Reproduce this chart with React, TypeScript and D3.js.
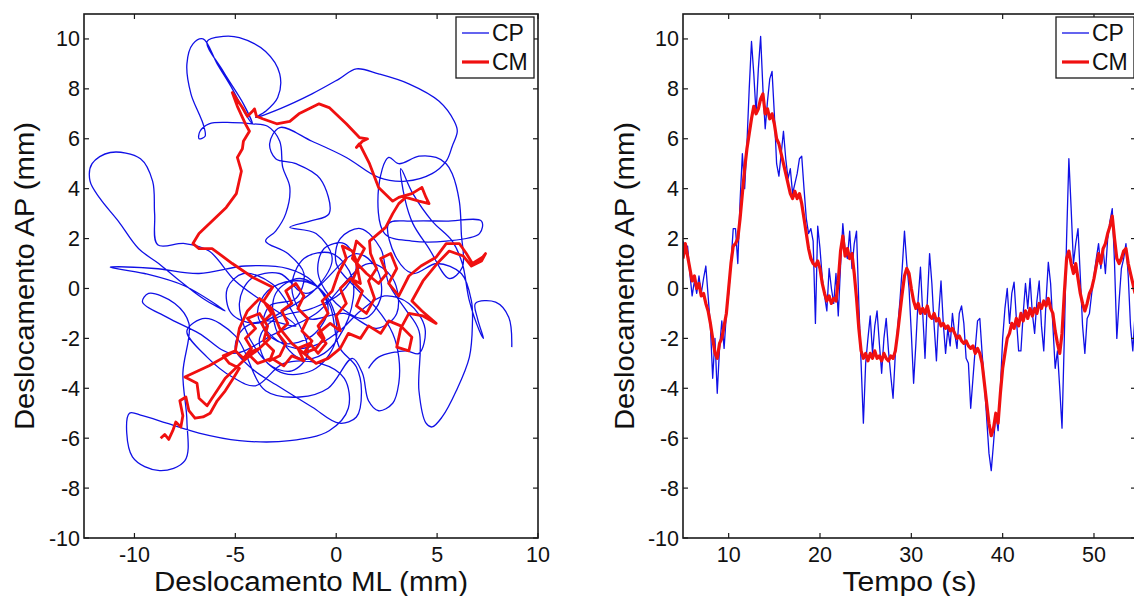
import React from "react";
import * as d3 from "d3";

// ---------- Data ----------
// Left panel: CP trajectory (ML, AP) in mm
const cpTrajectory: [number, number][] = [
  [1.6,-3.2],[2.1,-2.75],[3.45,-2.5],[4.1,-2.6],[4.4,-1.6],[3.6,-0.6],[2.4,-0.3],[1.2,-0.9],[0.3,-1.6],[-0.8,-2.2],[-2.0,-2.4],[-3.2,-1.9],[-3.9,-1.0],[-3.4,-0.1],[-2.2,0.3],[-1.0,0.1],[-0.3,-0.7],
  [0.15,-2.35],[1.0,-3.15],[1.25,-4.1],[1.0,-5.15],[0.15,-5.4],[-1.2,-4.75],[-2.8,-3.95],[-4.2,-3.2],[-5.0,-2.4],[-4.6,-1.6],[-3.4,-1.3],[-2.0,-1.5],
  [-3.5,-0.6],[-5.0,0.3],[-6.3,1.5],[-7.5,1.8],[-8.85,1.75],[-9.0,3.0],[-9.1,4.3],[-9.7,5.2],[-11.2,5.45],[-12.1,5.0],[-12.2,4.3],[-11.7,3.6],[-10.8,2.7],[-9.8,1.6],[-8.8,1.0],[-7.9,0.4],[-6.6,-0.4],[-5.5,-0.9],
  [-7.5,0.1],[-9.5,0.6],[-11.2,0.85],[-9.0,0.8],[-6.8,0.6],[-4.5,0.9],[-2.4,0.8],[-1.2,0.3],
  [-0.4,-0.8],[-1.2,-1.9],[-2.6,-2.2],[-3.6,-1.6],[-3.3,-0.7],[-2.0,-0.4],
  [-1.6,0.6],[-2.4,1.4],[-3.5,1.9],[-3.0,2.3],[-2.5,3.0],[-2.3,4.05],[-2.65,4.85],[-2.8,5.9],[-3.4,6.5],[-4.15,6.6],[-5.15,6.65],[-6.3,6.6],[-6.75,6.3],[-6.8,6.0],[-6.5,6.1],[-6.6,6.6],[-6.8,7.0],[-7.2,7.8],[-7.4,9.0],[-7.1,9.8],[-6.6,10.0],[-5.9,9.0],[-5.15,8.0],[-4.5,7.0],[-4.15,6.6],[-4.6,7.4],[-5.6,8.7],[-6.4,9.9],[-5.6,10.1],[-4.8,10.05],[-3.5,9.5],[-2.8,8.6],[-2.9,7.65],[-3.5,7.1],[-4.0,6.85],
  [-2.8,7.2],[-1.2,7.8],[0.15,8.4],[1.0,8.8],[2.1,8.6],[3.6,8.2],[5.1,7.5],[5.85,6.7],[6.0,6.3],[5.75,5.7],[5.45,5.1],[4.75,4.6],[3.45,4.3],[2.1,4.45],[0.5,5.25],[-1.2,5.9],[-2.8,6.45],[-3.3,5.8],[-3.0,5.2],[-2.0,5.0],[-0.8,4.4],[-0.35,3.0],[-1.3,2.7],[-2.3,2.45],[-1.0,2.2],
  [-0.2,1.2],[-1.0,0.0],[-2.4,-0.8],[-4.0,-1.4],[-5.2,-1.0],[-5.4,0.0],[-4.6,0.6],[-3.2,0.2],[-2.2,-0.9],[-1.4,-2.6],[-2.2,-3.3],[-3.4,-3.0],[-3.8,-2.0],[-3.0,-1.2],[-1.2,-0.8],[0.2,-0.2],[1.0,0.9],[0.4,1.8],[-0.6,1.6],[-0.9,0.6],[0.0,-0.6],[1.4,-1.2],[2.2,-0.4],[2.0,0.8],[1.0,1.4],
  [-1.5,-0.2],[-2.8,0.6],[-4.2,0.4],[-4.8,-0.6],[-4.0,-2.4],[-2.6,-3.4],[-1.0,-3.2],[0.0,-2.0],[-0.4,-0.4],[-1.8,0.4],[-3.0,-0.2],[-3.0,-1.6],[-1.8,-2.8],[-0.6,-2.6],[0.6,-1.2],[0.8,0.4],[-0.2,1.4],[-1.6,1.2],[-2.2,0.0],[-1.4,-1.2],[0.4,-1.0],[2.0,-1.6],[3.0,-1.0],[2.8,0.4],[1.6,1.0],
  [-1.0,-1.0],[-3.0,-1.8],[-5.15,-2.6],[-6.8,-1.8],[-8.4,-1.15],[-9.6,-0.55],[-9.3,-0.2],[-8.0,-0.6],[-7.3,-1.4],[-7.6,-3.4],[-7.4,-5.3],[-7.5,-6.9],[-8.75,-7.3],[-10.1,-6.75],[-10.25,-5.0],[-9.6,-5.1],[-8.4,-5.4],[-6.8,-5.8],[-4.8,-6.1],[-2.3,-6.1],[-0.35,-5.7],[0.6,-4.8],[0.4,-3.6],[-0.8,-3.0],[-2.6,-3.0],[-4.0,-3.9],[-5.15,-3.55],[-6.4,-2.75],[-7.4,-1.7],[-6.5,-1.2],[-5.0,-1.9],[-3.5,-4.1],[-1.8,-4.35],[-0.4,-4.0],[0.8,-2.8],
  [1.3,-3.4],[1.6,-4.5],[2.1,-4.9],[2.8,-4.6],[3.1,-3.8],[3.1,-2.75],[2.8,-1.8],[2.0,-0.8],[1.0,0.0],[0.0,1.0],[0.2,2.0],[1.2,2.4],[2.2,1.6],[2.6,0.2],[3.4,-0.8],[4.1,-1.7],[4.1,-4.1],[4.45,-5.4],[4.75,-5.55],[5.25,-5.15],[5.95,-4.1],[6.6,-2.75],[6.75,-1.4],[6.7,-0.5],[6.2,0.6],[5.0,1.0],[3.8,0.6],[3.0,1.2],[2.6,2.6],
  [3.75,2.7],[5.45,2.7],[7.2,2.7],[7.1,2.2],[5.45,1.9],[3.75,1.9],[2.4,2.2],
  [2.1,4.05],[2.6,5.25],[3.1,5.0],[4.1,5.3],[4.95,5.25],[5.45,5.0],[5.75,4.6],[6.1,3.5],[6.2,2.2],[6.25,0.85],[5.6,0.4],[4.6,1.6],[3.8,2.6],[3.4,3.6],[3.2,4.8],[3.8,3.8],[4.75,2.7],[5.75,1.9],[6.25,1.0],[6.6,-0.5],[7.1,-1.7],[7.3,-2.0],[7.0,-1.2],[6.9,-0.6],[7.9,-0.55],[8.55,-1.15],[8.7,-2.35],
];

// Left panel: CM trajectory (ML, AP) in mm
const cmTrajectory: [number, number][] = [
  [-8.7,-6.0],[-8.5,-5.85],[-8.3,-6.05],[-8.1,-5.7],[-7.95,-5.35],[-7.7,-5.55],[-7.6,-5.1],[-7.75,-4.5],[-7.45,-4.35],[-7.3,-4.9],[-7.0,-5.2],[-6.6,-5.15],[-6.25,-5.0],[-5.9,-4.5],[-5.5,-4.1],[-5.1,-3.6],[-4.8,-3.2],[-5.3,-3.0],[-5.6,-2.7],
  [-5.0,-2.5],[-4.6,-2.8],[-4.2,-2.4],[-4.5,-2.0],[-4.0,-1.6],[-4.4,-1.2],[-3.8,-1.0],[-3.4,-1.5],[-3.6,-2.1],[-3.1,-2.5],[-3.3,-2.9],[-2.8,-2.7],[-2.5,-2.2],[-2.9,-1.8],[-2.4,-1.4],[-2.7,-0.9],[-2.2,-0.6],[-2.5,-0.1],[-2.0,0.2],[-1.6,-0.3],[-1.9,-0.8],[-1.4,-1.2],[-1.7,-1.7],[-1.2,-2.1],[-1.6,-2.6],[-1.0,-2.4],[-0.6,-2.0],[-0.9,-1.5],[-0.4,-1.0],[-0.7,-0.5],[-0.2,-0.1],[0.1,0.6],[0.5,1.2],[0.3,1.7],[0.8,1.5],[1.1,0.9],[0.8,0.3],[1.3,-0.1],[1.0,-0.7],[1.5,-1.0],[1.9,-0.4],[1.6,0.3],[2.0,0.8],[1.7,1.4],[1.65,1.9],
  [2.45,2.45],[2.8,3.0],[3.1,3.4],[3.45,3.65],[4.1,3.5],[4.6,3.4],[4.45,3.65],[4.25,4.05],[3.75,3.8],[3.1,3.65],[2.8,3.5],[2.1,4.05],[1.65,5.0],[1.15,5.8],[1.0,5.65],[1.3,5.9],[1.55,6.0],[1.15,6.05],[0.5,6.6],[-0.35,7.25],[-0.85,7.4],[-1.85,7.0],[-2.3,6.7],[-2.95,6.6],[-3.65,6.8],[-3.95,6.9],[-4.05,7.2],[-4.15,7.1],[-4.4,6.9],[-4.65,7.25],[-5.15,7.85],[-4.9,7.3],[-4.5,6.6],[-4.3,6.3],[-4.6,5.9],[-4.65,5.6],[-4.9,5.25],[-4.7,4.7],[-4.95,3.8],[-5.45,3.25],[-6.15,2.7],[-6.8,2.2],[-7.1,1.8],[-6.8,1.6],[-6.15,1.6],[-5.15,1.0],[-4.15,0.45],[-3.15,0.05],
  [-3.6,-0.5],[-3.2,-1.0],[-3.7,-1.4],[-3.3,-2.0],[-3.8,-2.4],[-4.4,-2.6],[-3.9,-3.0],[-3.2,-2.8],[-2.6,-3.1],[-2.2,-2.7],[-1.6,-2.9],[-1.9,-2.4],[-1.3,-2.2],[-0.9,-2.6],[-0.5,-2.2],[-0.9,-1.8],[-0.3,-1.4],[0.2,-1.7],[0.0,-1.1],[0.5,-0.6],[0.2,0.0],[0.7,0.4],[1.2,0.2],[1.0,1.0],[1.4,1.6],[1.0,1.9],[0.8,1.2],[1.5,0.6],[2.1,0.2],[2.5,0.6],[2.2,1.2],[2.7,1.4],[3.0,0.8],[2.6,0.2],[3.1,-0.3],
  [3.6,0.5],[4.2,0.9],[4.95,1.25],[5.45,1.8],[6.1,1.8],[6.45,1.4],[6.75,1.0],[7.25,1.25],[7.4,1.4],[7.2,1.1],[6.7,0.9],[6.3,1.3],[5.6,1.5],[5.0,1.0],[4.3,0.3],[3.75,-0.5],[4.25,-0.9],[4.95,-1.4],[4.3,-1.1],[3.6,-1.0],[3.2,-1.6],[3.0,-2.35],[3.6,-2.5],[3.75,-1.95],[3.2,-1.5],[2.6,-1.3],[2.2,-1.8],[1.6,-1.5],[1.2,-2.0],[0.6,-1.8],[0.2,-2.4],[-0.4,-2.8],[-1.0,-3.0],[-1.6,-2.6],[-2.2,-2.2],[-2.8,-1.6],[-3.2,-0.8],[-3.8,-0.4],[-4.4,-0.9],[-4.8,-1.6],[-5.0,-2.5],[-6.3,-3.1],[-7.5,-3.55],[-6.9,-3.8],[-6.8,-4.4],[-6.4,-4.7],[-5.5,-3.6],[-4.6,-2.9],[-3.8,-2.4],
];

// Right panel: AP displacement vs time, sampled every 0.25 s from 5 s
const timeStart = 5;
const samplePeriod = 0.25;
const cpAP: number[] = [
  1.9,1.4,1.7,0.6,-0.3,0.3,-0.2,0.5,-0.2,0.4,0.9,-0.3,-1.5,-3.6,-2.0,-4.2,-2.4,-1.3,-2.4,-1.0,
  -0.2,1.0,2.4,2.4,1.0,3.5,5.4,4.0,5.8,8.0,9.9,8.6,7.0,8.8,10.1,8.0,6.4,7.5,8.4,8.7,
  7.0,5.0,4.5,5.4,6.3,5.2,4.4,4.8,3.8,4.2,4.6,5.2,5.3,4.0,2.8,2.2,2.4,1.9,-1.4,2.5,
  1.6,0.4,-0.3,-0.9,0.8,0.0,-0.6,0.6,-1.1,0.9,2.6,1.5,1.2,2.3,0.8,1.8,2.3,-0.6,-3.0,-5.4,
  -3.0,-2.0,-1.1,-2.6,-1.5,-0.9,-2.2,-3.4,-2.0,-1.2,-2.5,-3.5,-4.4,-2.6,-1.6,-0.5,0.8,2.3,1.0,0.0,
  -1.8,-3.8,-2.2,-0.4,0.85,-1.0,-2.8,-0.5,1.4,0.2,-1.5,-2.9,-1.0,0.3,-1.4,-2.6,-1.6,-2.3,-1.0,-1.8,
  -2.4,-1.0,-0.7,-1.4,-2.8,-3.0,-4.8,-3.6,-2.4,-1.3,-1.2,-2.6,-3.8,-5.2,-6.6,-7.3,-6.2,-5.0,-5.7,-4.0,
  -2.0,-0.8,0.0,-1.4,-0.2,0.25,-1.2,-2.5,-2.5,-1.0,0.2,-0.8,0.4,-1.0,-1.8,-0.5,0.3,-1.5,-2.5,-0.5,
  1.05,0.2,-1.5,-3.2,-2.5,-4.0,-5.6,-2.0,2.0,5.2,3.2,1.0,1.8,2.4,0.5,-1.5,-2.6,-1.2,-1.0,-0.2,
  0.5,1.2,1.8,0.8,1.6,0.6,2.0,2.7,3.2,1.0,-2.0,-0.5,0.8,1.2,1.8,0.5,-1.5,-2.5,-1.0,
];
const cmAP: number[] = [
  1.2,1.8,1.3,0.8,0.3,0.5,0.0,0.2,-0.3,-0.2,-0.6,-0.9,-1.4,-2.0,-2.6,-2.8,-2.2,-2.0,-1.5,-1.0,
  0.0,1.0,1.7,1.8,2.0,2.8,3.8,4.8,5.6,6.2,6.8,7.3,7.0,7.2,7.6,7.8,7.0,7.2,6.8,7.0,
  6.6,6.0,5.8,5.4,5.0,4.6,4.2,3.8,3.6,3.9,3.6,3.8,3.4,2.8,2.2,1.6,1.2,1.0,0.9,1.1,
  0.8,0.2,-0.2,-0.5,-0.3,-0.6,-0.4,-0.5,0.3,1.5,2.1,1.3,1.6,1.2,1.4,0.6,-0.4,-1.6,-2.5,-2.8,
  -2.6,-2.9,-2.6,-2.8,-2.5,-2.8,-2.7,-2.9,-2.6,-2.8,-2.9,-2.7,-2.8,-2.5,-1.8,-1.0,-0.2,0.5,0.8,0.6,
  0.0,-0.5,-0.8,-0.6,-1.0,-0.8,-1.0,-0.7,-1.1,-1.2,-1.0,-1.3,-1.2,-1.5,-1.4,-1.6,-1.5,-1.7,-1.6,-1.8,
  -2.0,-1.9,-2.1,-2.2,-2.1,-2.3,-2.4,-2.3,-2.6,-2.4,-2.6,-3.0,-3.8,-4.6,-5.4,-5.9,-5.6,-5.0,-5.4,-4.2,
  -3.2,-2.6,-2.0,-1.8,-1.4,-1.6,-1.2,-1.5,-1.0,-1.3,-0.9,-1.2,-0.8,-1.1,-0.8,-1.0,-0.6,-0.8,-0.5,-0.7,
  -0.4,-0.8,-1.0,-1.7,-2.2,-2.6,-1.8,-0.2,1.2,1.5,1.0,0.6,1.0,0.4,-0.2,-0.6,-0.9,-0.6,-0.2,0.0,
  0.4,0.9,1.4,1.0,1.6,1.8,2.2,2.5,2.9,2.0,1.2,1.0,1.2,1.5,1.6,1.0,0.6,0.2,-0.2,
];

const seriesNames = ["CP", "CM"];
const leftXTicks = [-10, -5, 0, 5, 10];
const yTicks = [-10, -8, -6, -4, -2, 0, 2, 4, 6, 8, 10];
const rightXTicks = [10, 20, 30, 40, 50];

const BLUE = "#1010e6";
const RED = "#f01010";
const FONT = "'Liberation Sans', Arial, Helvetica, sans-serif";
const AXIS = "#1a1a1a";

type PanelProps = {
  left: number; right: number; top: number; bottom: number;
  x: d3.ScaleLinear<number, number>; y: d3.ScaleLinear<number, number>;
  xTicks: number[]; xLabel: string; xLabelLen: number; yLabelX: number; id: string;
  legendX: number;
  children?: React.ReactNode;
};

function Panel(p: PanelProps) {
  const tl = 5;
  const cx = (p.left + p.right) / 2;
  const cy = (p.top + p.bottom) / 2;
  return (
    <g>
      <defs>
        <clipPath id={p.id}>
          <rect x={p.left} y={p.top} width={p.right - p.left} height={p.bottom - p.top} />
        </clipPath>
      </defs>
      <g clipPath={`url(#${p.id})`}>{p.children}</g>
      {p.xTicks.map((t) => (
        <g key={"xt" + t}>
          <line x1={p.x(t)} x2={p.x(t)} y1={p.bottom} y2={p.bottom - tl} stroke={AXIS} strokeWidth={1.2} />
          <line x1={p.x(t)} x2={p.x(t)} y1={p.top} y2={p.top + tl} stroke={AXIS} strokeWidth={1.2} />
          <text x={p.x(t)} y={562} textAnchor="middle" fontFamily={FONT} fontSize={21.5} fill="#111">{t}</text>
        </g>
      ))}
      {yTicks.map((t) => (
        <g key={"yt" + t}>
          <line x1={p.left} x2={p.left + tl} y1={p.y(t)} y2={p.y(t)} stroke={AXIS} strokeWidth={1.2} />
          <line x1={p.right} x2={p.right - tl} y1={p.y(t)} y2={p.y(t)} stroke={AXIS} strokeWidth={1.2} />
          <text x={p.left - 4} y={p.y(t) + 7.5} textAnchor="end" fontFamily={FONT} fontSize={21.5} fill="#111">{t}</text>
        </g>
      ))}
      <rect x={p.left} y={p.top} width={p.right - p.left} height={p.bottom - p.top} fill="none" stroke={AXIS} strokeWidth={1.6} />
      <g>
        <rect x={p.legendX} y={17} width={78} height={61} fill="#fff" stroke={AXIS} strokeWidth={1.3} />
        <line x1={p.legendX + 6} x2={p.legendX + 33} y1={33} y2={33} stroke={BLUE} strokeWidth={1.3} />
        <text x={p.legendX + 36} y={41} fontFamily={FONT} fontSize={23} fill="#111">{seriesNames[0]}</text>
        <line x1={p.legendX + 6} x2={p.legendX + 33} y1={62} y2={62} stroke={RED} strokeWidth={3.2} />
        <text x={p.legendX + 36} y={70} fontFamily={FONT} fontSize={23} fill="#111">{seriesNames[1]}</text>
      </g>
      <text x={cx} y={591} textAnchor="middle" fontFamily={FONT} fontSize={27} fill="#111"
        textLength={p.xLabelLen} lengthAdjust="spacingAndGlyphs">{p.xLabel}</text>
      <text transform={`translate(${p.yLabelX},${cy}) rotate(-90)`} textAnchor="middle" fontFamily={FONT} fontSize={27.5} fill="#111"
        textLength={308} lengthAdjust="spacingAndGlyphs">Deslocamento AP (mm)</text>
    </g>
  );
}

export default function App() {
  const top = 14, bottom = 538;
  const yL = d3.scaleLinear().domain([-10, 11]).range([bottom, top]);
  const xL = d3.scaleLinear().domain([-12.5, 10]).range([84, 538]);
  const xR = d3.scaleLinear().domain([5, 54.6]).range([683, 1136]);

  const trajLineBlue = d3.line<[number, number]>()
    .x((d) => xL(d[0])).y((d) => yL(d[1]))
    .curve(d3.curveCatmullRom.alpha(0.5));
  const trajLineRed = d3.line<[number, number]>()
    .x((d) => xL(d[0])).y((d) => yL(d[1]))
    .curve(d3.curveLinear);
  const tsLine = d3.line<number>()
    .x((_, i) => xR(timeStart + i * samplePeriod))
    .y((d) => yL(d))
    .curve(d3.curveLinear);

  return (
    <svg width={1134} height={596} style={{ position: "absolute", left: 0, top: 0, display: "block", background: "#fff" }}>
      <rect x={0} y={0} width={1134} height={596} fill="#fff" />
      <Panel left={84} right={538} top={top} bottom={bottom} x={xL} y={yL} xTicks={leftXTicks}
        xLabel="Deslocamento ML (mm)" xLabelLen={314} yLabelX={34} id="clipL" legendX={456}>
        <path d={trajLineBlue(cpTrajectory) || ""} fill="none" stroke={BLUE} strokeWidth={1.3} strokeLinejoin="round" />
        <path d={trajLineRed(cmTrajectory) || ""} fill="none" stroke={RED} strokeWidth={2.8} strokeLinejoin="round" />
      </Panel>
      <Panel left={683} right={1136} top={top} bottom={bottom} x={xR} y={yL} xTicks={rightXTicks}
        xLabel="Tempo (s)" xLabelLen={134} yLabelX={634} id="clipR" legendX={1056}>
        <path d={tsLine(cpAP) || ""} fill="none" stroke={BLUE} strokeWidth={1.3} strokeLinejoin="round" />
        <path d={tsLine(cmAP) || ""} fill="none" stroke={RED} strokeWidth={3.2} strokeLinejoin="round" />
      </Panel>
    </svg>
  );
}
